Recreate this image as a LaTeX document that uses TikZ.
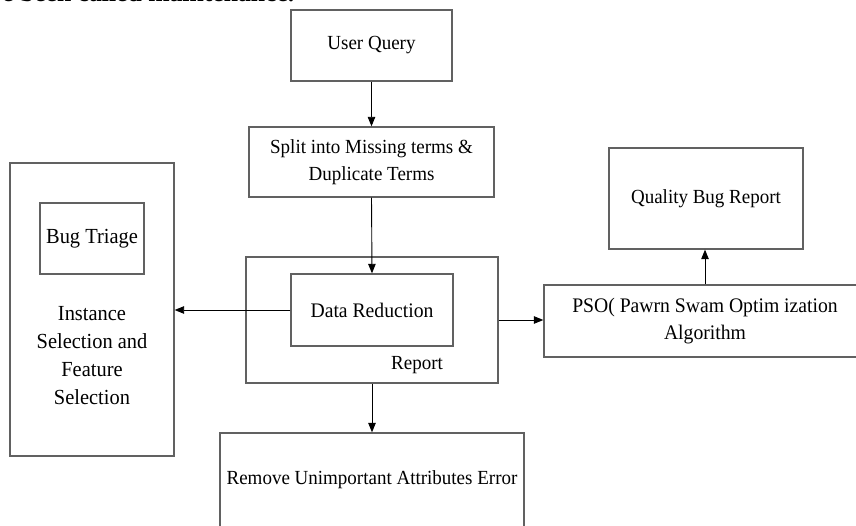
\documentclass[tikz,border=0pt]{standalone}
\usepackage{fontspec}
\setmainfont{Liberation Serif}[FakeStretch=0.95]
\usetikzlibrary{arrows.meta}
\begin{document}
\begin{tikzpicture}[x=1pt,y=-1pt,
  box/.style={draw=black!62, line width=1.3pt, inner sep=0pt, align=center},
  lbl/.style={inner sep=0pt, align=center},
  flow/.style={draw=black, line width=0.9pt, -{Triangle[length=9.5pt,width=7.5pt]}},
  every node/.style={font=\fontsize{20}{27.5}\selectfont},
  big/.style={font=\fontsize{20.7}{27.5}\selectfont},
  bigger/.style={font=\fontsize{21.5}{28}\selectfont}]
\useasboundingbox (0,0) rectangle (856,526);
\clip (0,0) rectangle (856,526);

% running text of the page above the figure
\node[lbl, anchor=base west, font=\bfseries\fontsize{27}{30}\selectfont] (hdr) at (2,2) {e been called maintenance.};

% main column
\node[box, minimum width=161pt, minimum height=71pt] (uq) at (371.5,45.5) {User Query};
\node[box, minimum width=245pt, minimum height=70pt] (split) at (371.5,162) {Split into Missing terms \&\\Duplicate Terms};
\node[box, minimum width=252pt, minimum height=126pt] (rep) at (372,320) {};
\node[box, big, minimum width=162pt, minimum height=72pt] (dr) at (372,310) {Data Reduction};
\node[lbl] (reptxt) at (417,365) {Report};
\node[box, minimum width=304pt, minimum height=110pt] (rm) at (372,488) {};
\node[lbl] (rmtxt) at (372,480) {Remove Unimportant Attributes Error};

% left block
\node[box, minimum width=164pt, minimum height=293pt] (sel) at (92,309.5) {};
\node[box, bigger, minimum width=104pt, minimum height=71pt] (bt) at (92,238.5) {Bug Triage};
\node[lbl, bigger] (seltxt) at (92,356) {Instance\\Selection and\\Feature\\Selection};

% right block
\node[box, big, minimum width=322pt, minimum height=72pt] (pso) at (705,321) {PSO( Pawrn Swam Optim ization\\Algorithm};
\node[box, minimum width=194pt, minimum height=101pt] (qbr) at (706,198.5) {Quality Bug Report};

% connectors
\draw[flow] (uq.south) -- (split.north);
\draw[flow] (split.south) -- (dr.north);
\draw[flow] (dr.west) -- (dr.west -| sel.east);
\draw[flow] (rep.east) -- (rep.east -| pso.west);
\draw[flow] (pso.north) -- (pso.north |- qbr.south);
\draw[flow] (rep.south) -- (rm.north);
\end{tikzpicture}
\end{document}
